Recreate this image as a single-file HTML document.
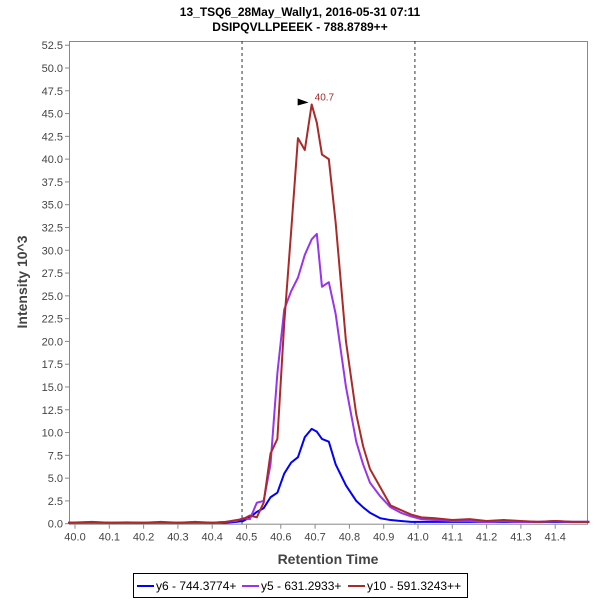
<!DOCTYPE html>
<html><head><meta charset="utf-8"><style>
body{margin:0;background:#fff;}
svg text{font-family:"Liberation Sans",sans-serif;}
</style></head><body>
<svg id="chart" width="600" height="600" xmlns="http://www.w3.org/2000/svg">
<rect width="600" height="600" fill="#fff"/>
<text x="300" y="16" text-anchor="middle" font-size="12" font-weight="bold">13_TSQ6_28May_Wally1, 2016-05-31 07:11</text>
<text x="300" y="31" text-anchor="middle" font-size="12" font-weight="bold">DSIPQVLLPEEEK - 788.8789++</text>
<text transform="translate(27,282) rotate(-90)" text-anchor="middle" font-size="14" font-weight="bold" fill="#444">Intensity 10^3</text>
<text x="328" y="564" text-anchor="middle" font-size="14" font-weight="bold" fill="#444">Retention Time</text>
<g id="axes"></g>
<g id="series"></g>
<g>
<rect x="133.5" y="573.5" width="334" height="24" fill="#fff" stroke="#000"/>
<line x1="137" y1="586" x2="154" y2="586" stroke="#0000ff" stroke-width="2"/>
<text x="156" y="590" font-size="12">y6 - 744.3774+</text>
<line x1="242" y1="586" x2="259" y2="586" stroke="#9933ee" stroke-width="2"/>
<text x="261" y="590" font-size="12">y5 - 631.2933+</text>
<line x1="348" y1="586" x2="365" y2="586" stroke="#aa2a2a" stroke-width="2"/>
<text x="367" y="590" font-size="12">y10 - 591.3243++</text>
</g>
</svg>
<script>
const times=[39.98,40.05,40.1,40.15,40.2,40.25,40.3,40.35,40.4,40.44,40.47,40.49,40.51,40.53,40.55,40.57,40.59,40.61,40.63,40.65,40.67,40.69,40.705,40.72,40.74,40.76,40.79,40.82,40.84,40.86,40.89,40.92,40.95,40.98,41.01,41.05,41.1,41.15,41.2,41.25,41.3,41.35,41.4,41.45,41.5];
const y10Values=[0.1,0.2,0.1,0.15,0.1,0.2,0.1,0.2,0.1,0.2,0.4,0.5,0.9,0.7,2.3,7.7,9.3,22,32,42.3,41,46,44,40.5,40,33,20,12,8.5,6,4,2,1.5,1,0.7,0.6,0.4,0.5,0.3,0.4,0.3,0.2,0.3,0.2,0.2];
const y5Values=[0.1,0.1,0.1,0.1,0.1,0.1,0.1,0.1,0.1,0.2,0.3,0.6,0.5,2.3,2.5,6.5,16.5,23.5,25.5,27,29.5,31.2,31.8,26,26.5,23,15,9,6.5,4.5,3,1.8,1.2,0.8,0.5,0.4,0.3,0.3,0.2,0.3,0.2,0.2,0.3,0.2,0.2];
const y6Values=[0.1,0.1,0.1,0.1,0.1,0.1,0.1,0.1,0.1,0.1,0.2,0.3,0.7,1.3,1.7,2.9,3.4,5.5,6.7,7.3,9.5,10.4,10.1,9.3,9,6.5,4.2,2.5,1.8,1.2,0.6,0.4,0.3,0.2,0.2,0.2,0.2,0.2,0.2,0.2,0.2,0.2,0.2,0.2,0.2];
const yTicks=[0,2.5,5,7.5,10,12.5,15,17.5,20,22.5,25,27.5,30,32.5,35,37.5,40,42.5,45,47.5,50,52.5];
const xTicks=[40.0,40.1,40.2,40.3,40.4,40.5,40.6,40.7,40.8,40.9,41.0,41.1,41.2,41.3,41.4];
const boundaries=[40.487,40.991];
const peakTime=40.69, peakValue=46.0, peakLabel="40.7";

const L=69,R=588,T=41,B=523.7;
const xs=v=>75+(v-40)*343;
const ys=v=>B-v*9.114;
const NS="http://www.w3.org/2000/svg";
function mk(tag,attrs,parent){const e=document.createElementNS(NS,tag);for(const k in attrs)e.setAttribute(k,attrs[k]);parent.appendChild(e);return e;}
const axes=document.getElementById('axes'), ser=document.getElementById('series');
const frame=mk('rect',{x:L+.5,y:T+.5,width:R-L-1,height:B-T,fill:'none',stroke:'#888'},axes);


yTicks.forEach(v=>{const y=ys(v);
 mk('line',{x1:L-4,x2:L,y1:y,y2:y,stroke:'#888'},axes);
 const t=mk('text',{x:L-6,y:y+4,'text-anchor':'end','font-size':11,fill:'#444'},axes);t.textContent=v.toFixed(1);
 
 });
xTicks.forEach(v=>{const x=xs(v);
 mk('line',{x1:x,x2:x,y1:B+1,y2:B+5,stroke:'#888'},axes);
 const t=mk('text',{x:x,y:B+17,'text-anchor':'middle','font-size':11,fill:'#444'},axes);t.textContent=v.toFixed(1);
 
 });
boundaries.forEach(v=>{const l=mk('line',{x1:xs(v),x2:xs(v),y1:T,y2:B,stroke:'#333','stroke-dasharray':'3,3'},axes);
 
 });
function draw(vals,color,name){const p=mk('polyline',{points:times.map((t,i)=>xs(t)+','+ys(vals[i])).join(' '),fill:'none',stroke:color,'stroke-width':2,'stroke-linejoin':'round'},ser);
 
 }
draw(y6Values,'#0000ff','series-y6');
draw(y5Values,'#9933ee','series-y5');
draw(y10Values,'#aa2a2a','series-y10');
const px=xs(peakTime),py=ys(peakValue);
const arr=mk('polygon',{points:`${px-14},${py-6} ${px-3},${py-2} ${px-14},${py+1}`,fill:'#000'},ser);


const pl=mk('text',{x:px+3,y:py-4,'font-size':10,fill:'#aa2a2a'},ser);pl.textContent=peakLabel;


</script>
</body></html>
